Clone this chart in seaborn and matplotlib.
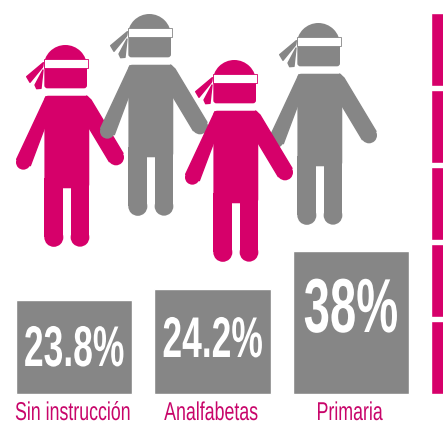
import matplotlib
matplotlib.use('Agg')
import matplotlib.pyplot as plt
import matplotlib.patheffects as pe
from matplotlib.patches import Polygon, Circle, Rectangle, FancyBboxPatch, Wedge
from matplotlib.transforms import Affine2D
import pandas as pd
import seaborn as sns

categories = ['Sin instrucción', 'Analfabetas', 'Primaria']
value_labels = ['23.8%', '24.2%', '38%']
# bar heights (not proportional to the labels in the original)
bar_heights = [94, 105, 143]
label_base = [28, 37, 62]
value_sizes = [25.5, 25.5, 34]
value_stretch = [1.62, 1.62, 1.62]
segments = [73, 73, 73, 73, 73]
segment_gap = 4

people_x = [66, 150, 319, 235]
people_top = [45, 14, 23, 60]
people_kind = ['pink', 'gray', 'gray', 'pink']

PINK = '#d6006a'
GRAY = '#868686'
colors = {'pink': PINK, 'gray': GRAY}


class Stretch(pe.AbstractPathEffect):
    # tall condensed look, the text stays text
    def __init__(self, k):
        super().__init__()
        self.k = k

    def draw_path(self, renderer, gc, tpath, affine, rgbFace=None):
        renderer.draw_path(gc, tpath, Affine2D().scale(1, self.k) + affine, rgbFace)


def person(ax, cx, top, color, z):
    # shape measured in a 3x crop, origin at head top
    def P(x, y):
        return ((x - 200) / 3 + cx, (y - 135) / 3 + top)

    def add(patch):
        patch.set_zorder(z)
        ax.add_patch(patch)

    def poly(pts):
        add(Polygon([P(*p) for p in pts], closed=True, fc=color, ec=color, lw=1, joinstyle='round'))

    def circ(x, y, r):
        add(Circle(P(x, y), r / 3, fc=color, ec='none'))

    # arms
    poly([(140, 290), (52, 478), (93, 497), (135, 385), (160, 320)])
    circ(72, 487, 22)
    poly([(262, 288), (275, 300), (371, 460), (330, 485), (270, 385), (240, 320)])
    circ(350, 472, 24)
    # torso and legs
    x0, y0 = P(140, 292)
    x1, y1 = P(265, 560)
    add(FancyBboxPatch((x0, y0), x1 - x0, y1 - y0, boxstyle='round,pad=1.6,rounding_size=4', fc=color, ec='none'))
    for a, b in [(135, 192), (214, 270)]:
        xa, ya = P(a, 535)
        xb, yb = P(b, 712)
        add(Rectangle((xa, ya), xb - xa, yb - ya, fc=color, ec='none'))
        circ((a + b) / 2, 712, (b - a) / 2)
    # head
    c = P(198, 200)
    add(Wedge(c, 65 / 3, 180, 360, fc=color, ec='none'))
    x0, y0 = P(138, 195)
    x1, y1 = P(260, 262)
    add(FancyBboxPatch((x0, y0), x1 - x0, y1 - y0, boxstyle='round,pad=1,rounding_size=3', fc=color, ec='none'))
    # knot tails
    poly([(132, 188), (82, 230), (92, 247), (129, 202)])
    poly([(131, 210), (107, 255), (112, 266), (125, 265)])
    # blindfold
    x0, y0 = P(133, 178)
    x1, y1 = P(265, 205)
    add(Rectangle((x0, y0), x1 - x0, y1 - y0, fc='white', ec=color, lw=0.6))


sns.set_theme(style='white')
plt.rcParams['font.family'] = ['Liberation Sans Narrow', 'Liberation Sans', 'DejaVu Sans']

fig = plt.figure(figsize=(4.43, 4.24), dpi=100)
ax = fig.add_axes([0, 0, 1, 1])

df = pd.DataFrame({'cat': categories, 'height': bar_heights})
sns.barplot(data=df, x='cat', y='height', color=GRAY, saturation=1, width=0.84, ax=ax, zorder=2)

# last column is a stack of pink blocks, runs off the right edge
bottom = 0
for s in segments:
    ax.bar(3, s, bottom=bottom, width=0.84, color=PINK, zorder=2)
    bottom += s + segment_gap

# 138.5 px between bars, first bar centre at 74 px
ax.set_xlim(-74 / 138.5, (443 - 74) / 138.5)
ax.set_ylim(-30, 394)
ax.axis('off')

for i, lab in enumerate(value_labels):
    ax.text(i, label_base[i], lab, color='white', fontsize=value_sizes[i], fontweight='bold',
            ha='center', va='baseline', zorder=3, path_effects=[Stretch(value_stretch[i])])
for i, cat in enumerate(categories):
    ax.text(i - 0.01, -26, cat, color='#c8056a', fontsize=12.8, ha='center', va='baseline', zorder=3,
            path_effects=[Stretch(1.45)])

top_ax = fig.add_axes([0, 0, 1, 1], facecolor='none')
top_ax.set_xlim(0, 443)
top_ax.set_ylim(424, 0)
top_ax.axis('off')
for k, (cx, t, kind) in enumerate(zip(people_x, people_top, people_kind)):
    person(top_ax, cx, t, colors[kind], 2 + k)

fig.savefig('out.png', dpi=100)
